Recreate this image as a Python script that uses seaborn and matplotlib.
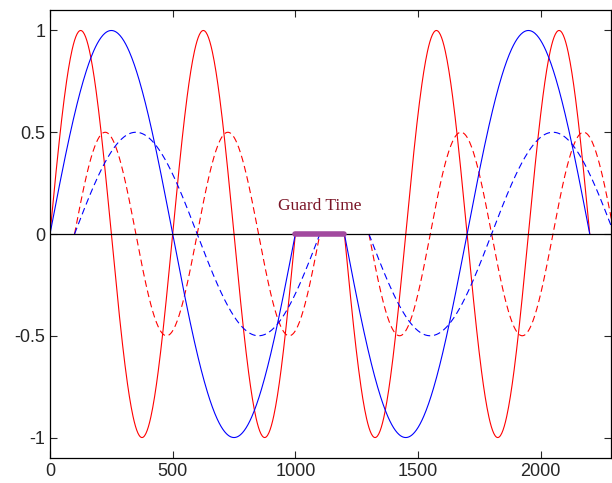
import numpy as np
import pandas as pd
import matplotlib.pyplot as plt
import seaborn as sns

# two OFDM-like symbols separated by a guard interval, plus a delayed echo
symbol_starts = [0, 1200]          # start of each symbol
symbol_length = 1000
symbol_signs = [1, -1]             # phase of each symbol
periods = [500, 1000]              # red carrier, blue carrier
carrier_colors = ["red", "blue"]
echo_delay = 100
echo_gain = 0.5
guard = [1000, 1200]

yticks = [-1, -0.5, 0, 0.5, 1]
xticks = [0, 500, 1000, 1500, 2000]

sns.set_style("ticks")
plt.rcParams["font.family"] = ["Liberation Sans", "DejaVu Sans"]
plt.rcParams["xtick.direction"] = "in"
plt.rcParams["ytick.direction"] = "in"

fig = plt.figure(figsize=(6.12, 4.83), dpi=100)
ax = fig.add_axes([0.0817, 0.052, 0.916, 0.927])

for start, sign in zip(symbol_starts, symbol_signs):
    for period, color in zip(periods, carrier_colors):
        # direct path
        t = np.linspace(start, start + symbol_length, 400)
        y = sign * np.sin(2 * np.pi * (t - start) / period)
        sns.lineplot(x=t, y=y, color=color, lw=0.8, ax=ax, sort=False)
        # echo path
        te = t + echo_delay
        ye = echo_gain * y
        sns.lineplot(x=te, y=ye, color=color, lw=0.8, ax=ax, sort=False,
                     linestyle=(0, (6, 3.5)))

ax.axhline(0, color="black", lw=0.9)
ax.plot(guard, [0, 0], color="#a24a9f", lw=4, solid_capstyle="round", zorder=5)
ax.text(np.mean(guard), 0.14, "Guard Time", ha="center", va="center",
        color="#7a1426", fontsize=12.5, family=["Liberation Serif", "DejaVu Serif"])

ax.set_xlim(0, 2285)
ax.set_ylim(-1.1, 1.1)
ax.set_xticks(xticks)
ax.set_yticks(yticks)
ax.set_yticklabels(["-1", "-0.5", "0", "0.5", "1"])
ax.tick_params(top=True, right=True, labelsize=13, length=5, width=0.8)
for s in ax.spines.values():
    s.set_color("black")
    s.set_linewidth(0.9)

fig.savefig("out.png", dpi=100)
